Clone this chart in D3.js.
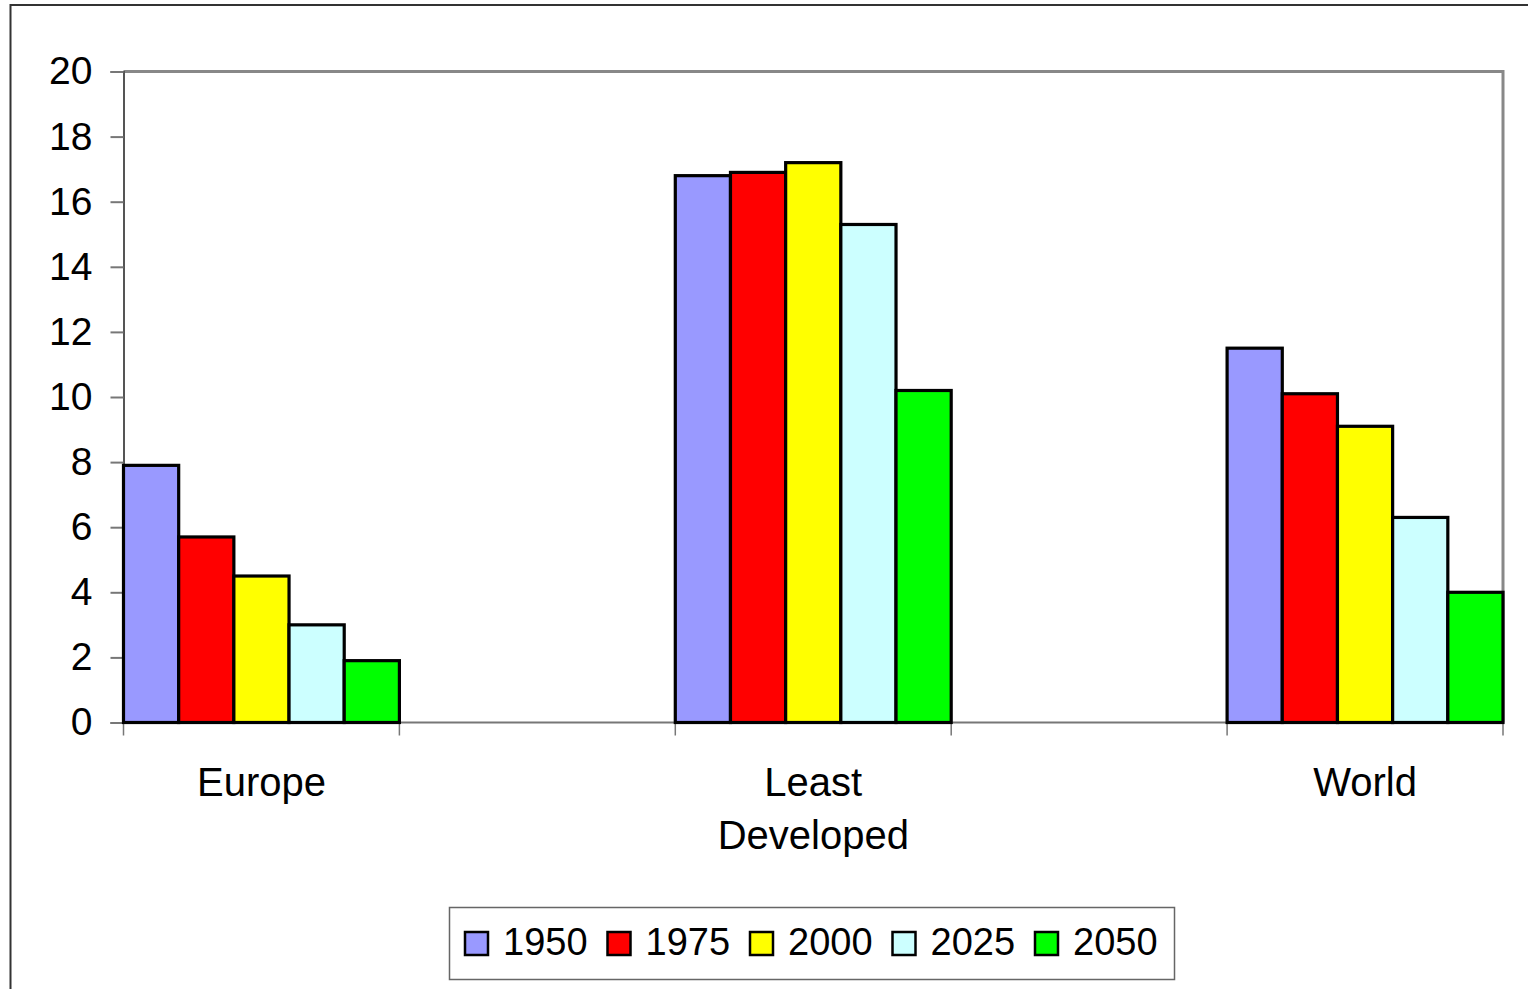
<!DOCTYPE html>
<html>
<head>
<meta charset="utf-8">
<script src="https://cdn.jsdelivr.net/npm/d3@7"></script>
<style>
  body { margin: 0; background: #fff; }
  svg { display: block; font-family: "Liberation Sans", Arial, sans-serif; }
</style>
</head>
<body>
<script>
// data
const categories = ["Europe", "Least Developed", "World"];
const years = ["1950", "1975", "2000", "2025", "2050"];
const europe = [7.9, 5.7, 4.5, 3.0, 1.9];
const leastDeveloped = [16.8, 16.9, 17.2, 15.3, 10.2];
const world = [11.5, 10.1, 9.1, 6.3, 4.0];
const yTicks = [0, 2, 4, 6, 8, 10, 12, 14, 16, 18, 20];
const colors = ["#9999ff", "#ff0000", "#ffff00", "#ccffff", "#00ff00"];

const series = [europe, leastDeveloped, world];

const width = 1528, height = 989;
const plot = { left: 123.5, right: 1503, top: 71.5, bottom: 722.5 };

const svg = d3.select("body").append("svg")
  .attr("width", width)
  .attr("height", height);

// outer chart border (runs off the right / bottom edges)
svg.append("rect")
  .attr("x", 10.5).attr("y", 5)
  .attr("width", 1530).attr("height", 1000)
  .attr("fill", "none")
  .attr("stroke", "#333")
  .attr("stroke-width", 2);

// categories sit in every other slot; blank slots between them
const slots = ["Europe", "_a", "Least Developed", "_b", "World"];
const x = d3.scaleBand().domain(slots).range([plot.left, plot.right]).padding(0);
const xInner = d3.scaleBand().domain(years).range([0, x.bandwidth()]).padding(0);
const y = d3.scaleLinear().domain([0, 20]).range([plot.bottom, plot.top]);

// plot area frame: top and right in grey
svg.append("path")
  .attr("d", `M${plot.left},${plot.top}H${plot.right}V${plot.bottom}`)
  .attr("fill", "none")
  .attr("stroke", "#888")
  .attr("stroke-width", 3);

// y axis
const yAxis = svg.append("g")
  .attr("transform", `translate(${plot.left},0)`)
  .call(d3.axisLeft(y).tickValues(yTicks).tickSize(13).tickPadding(18).tickFormat(d3.format("d")));
yAxis.select(".domain").attr("stroke", "#555").attr("stroke-width", 2);
yAxis.selectAll(".tick line").attr("stroke", "#777").attr("stroke-width", 2);
yAxis.selectAll(".tick text")
  .attr("font-size", 39)
  .attr("fill", "#000")
  .attr("font-family", "Liberation Sans, Arial, sans-serif");

// x axis line and slot ticks
const xAxis = svg.append("g");
xAxis.append("line")
  .attr("x1", plot.left).attr("x2", plot.right)
  .attr("y1", plot.bottom).attr("y2", plot.bottom)
  .attr("stroke", "#777").attr("stroke-width", 2);
const boundaries = slots.map(s => x(s)).concat([x(slots[slots.length - 1]) + x.bandwidth()]);
xAxis.selectAll("line.tick")
  .data(boundaries)
  .join("line")
  .attr("class", "tick")
  .attr("x1", d => d).attr("x2", d => d)
  .attr("y1", plot.bottom).attr("y2", plot.bottom + 13)
  .attr("stroke", "#777").attr("stroke-width", 1.5);

// bars
const groups = svg.append("g")
  .selectAll("g")
  .data(categories.map((c, i) => ({ name: c, values: series[i] })))
  .join("g")
  .attr("transform", d => `translate(${x(d.name)},0)`);

groups.selectAll("rect")
  .data(d => d.values.map((v, i) => ({ year: years[i], value: v, color: colors[i] })))
  .join("rect")
  .attr("x", d => xInner(d.year))
  .attr("y", d => y(d.value))
  .attr("width", xInner.bandwidth())
  .attr("height", d => plot.bottom - y(d.value))
  .attr("fill", d => d.color)
  .attr("stroke", "#000")
  .attr("stroke-width", 3.2);

// category labels
const catLabels = svg.append("g")
  .selectAll("text")
  .data(categories)
  .join("text")
  .attr("x", d => x(d) + x.bandwidth() / 2)
  .attr("y", 796)
  .attr("text-anchor", "middle")
  .attr("font-size", 40)
  .attr("fill", "#000");
catLabels.each(function (d) {
  const words = d === "Least Developed" ? ["Least", "Developed"] : [d];
  const t = d3.select(this);
  words.forEach((w, i) => {
    t.append("tspan")
      .attr("x", x(d) + x.bandwidth() / 2)
      .attr("dy", i === 0 ? 0 : 53)
      .text(w);
  });
});

// legend
const legend = svg.append("g");
legend.append("rect")
  .attr("x", 449.5).attr("y", 907.5)
  .attr("width", 725).attr("height", 72)
  .attr("fill", "#fff")
  .attr("stroke", "#666")
  .attr("stroke-width", 1.5);

const items = legend.selectAll("g.item")
  .data(years)
  .join("g")
  .attr("class", "item")
  .attr("transform", (d, i) => `translate(${465 + i * 142.5},932)`);
items.append("rect")
  .attr("width", 23).attr("height", 23)
  .attr("fill", (d, i) => colors[i])
  .attr("stroke", "#000")
  .attr("stroke-width", 2.5);
items.append("text")
  .attr("x", 38).attr("y", 23)
  .attr("font-size", 38)
  .attr("fill", "#000")
  .text(d => d);
</script>
</body>
</html>
